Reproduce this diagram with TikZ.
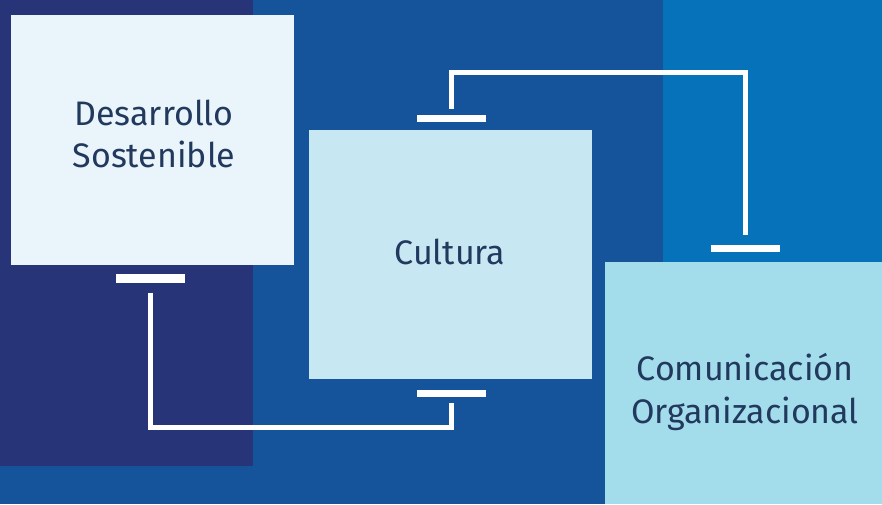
\documentclass[tikz,border=0pt]{standalone}
\usepackage{fontspec}
\setmainfont{Fira Sans}
\definecolor{navy}{HTML}{283478}
\definecolor{midblue}{HTML}{15539A}
\definecolor{rightblue}{HTML}{0572BA}
\definecolor{boxA}{HTML}{EAF5FB}
\definecolor{boxB}{HTML}{C7E8F2}
\definecolor{boxC}{HTML}{A3DCEA}
\definecolor{txt}{HTML}{22395E}
\begin{document}
\begin{tikzpicture}[x=1pt,y=-1pt,
  box/.style={rectangle, draw=none, inner sep=0pt, anchor=north west},
  tbar/.style={rectangle, fill=white, draw=none, inner sep=0pt, minimum width=69pt, minimum height=7.5pt},
  conn/.style={draw=white, line width=5pt, line join=miter},
  lbl/.style={text=txt, font=\fontsize{34}{42}\selectfont, inner sep=0pt, anchor=base}]
\useasboundingbox (0,0) rectangle (882,504);
\fill[midblue] (0,0) rectangle (882,504);
\fill[navy] (0,0) rectangle (253,466);
\fill[rightblue] (663,0) rectangle (882,504);
% boxes
\node[box, fill=boxA, minimum width=283pt, minimum height=250pt] (ds) at (11,15) {};
\node[box, fill=boxB, minimum width=283pt, minimum height=249pt] (cu) at (309,130) {};
\node[box, fill=boxC, minimum width=277pt, minimum height=242pt] (co) at (605,262) {};
% labels
\node[lbl] (ds1) at (154,125) {Desarrollo};
\node[lbl] (ds2) at (154,167) {Sostenible};
\node[lbl] (cu1) at (450,264) {Cultura};
\node[lbl] (co1) at (745,380) {Comunicación};
\node[lbl] (co2) at (745,423) {Organizacional};
% T bars
\node[tbar, minimum height=9pt] (b1) at (150,278) {};
\node[tbar] (b2) at (451.5,393.5) {};
\node[tbar] (b3) at (451.5,118.5) {};
\node[tbar] (b4) at (745.5,248.5) {};
\coordinate (yb) at (0,427);
\coordinate (yt) at (0,72);
% connectors
\draw[conn, shorten <=10pt, shorten >=6pt] (b1.south) -- (b1.south |- yb) -| (b2.south);
\draw[conn, shorten <=6pt, shorten >=10pt] (b3.north) -- (b3.north |- yt) -| (b4.north);
\end{tikzpicture}
\end{document}
